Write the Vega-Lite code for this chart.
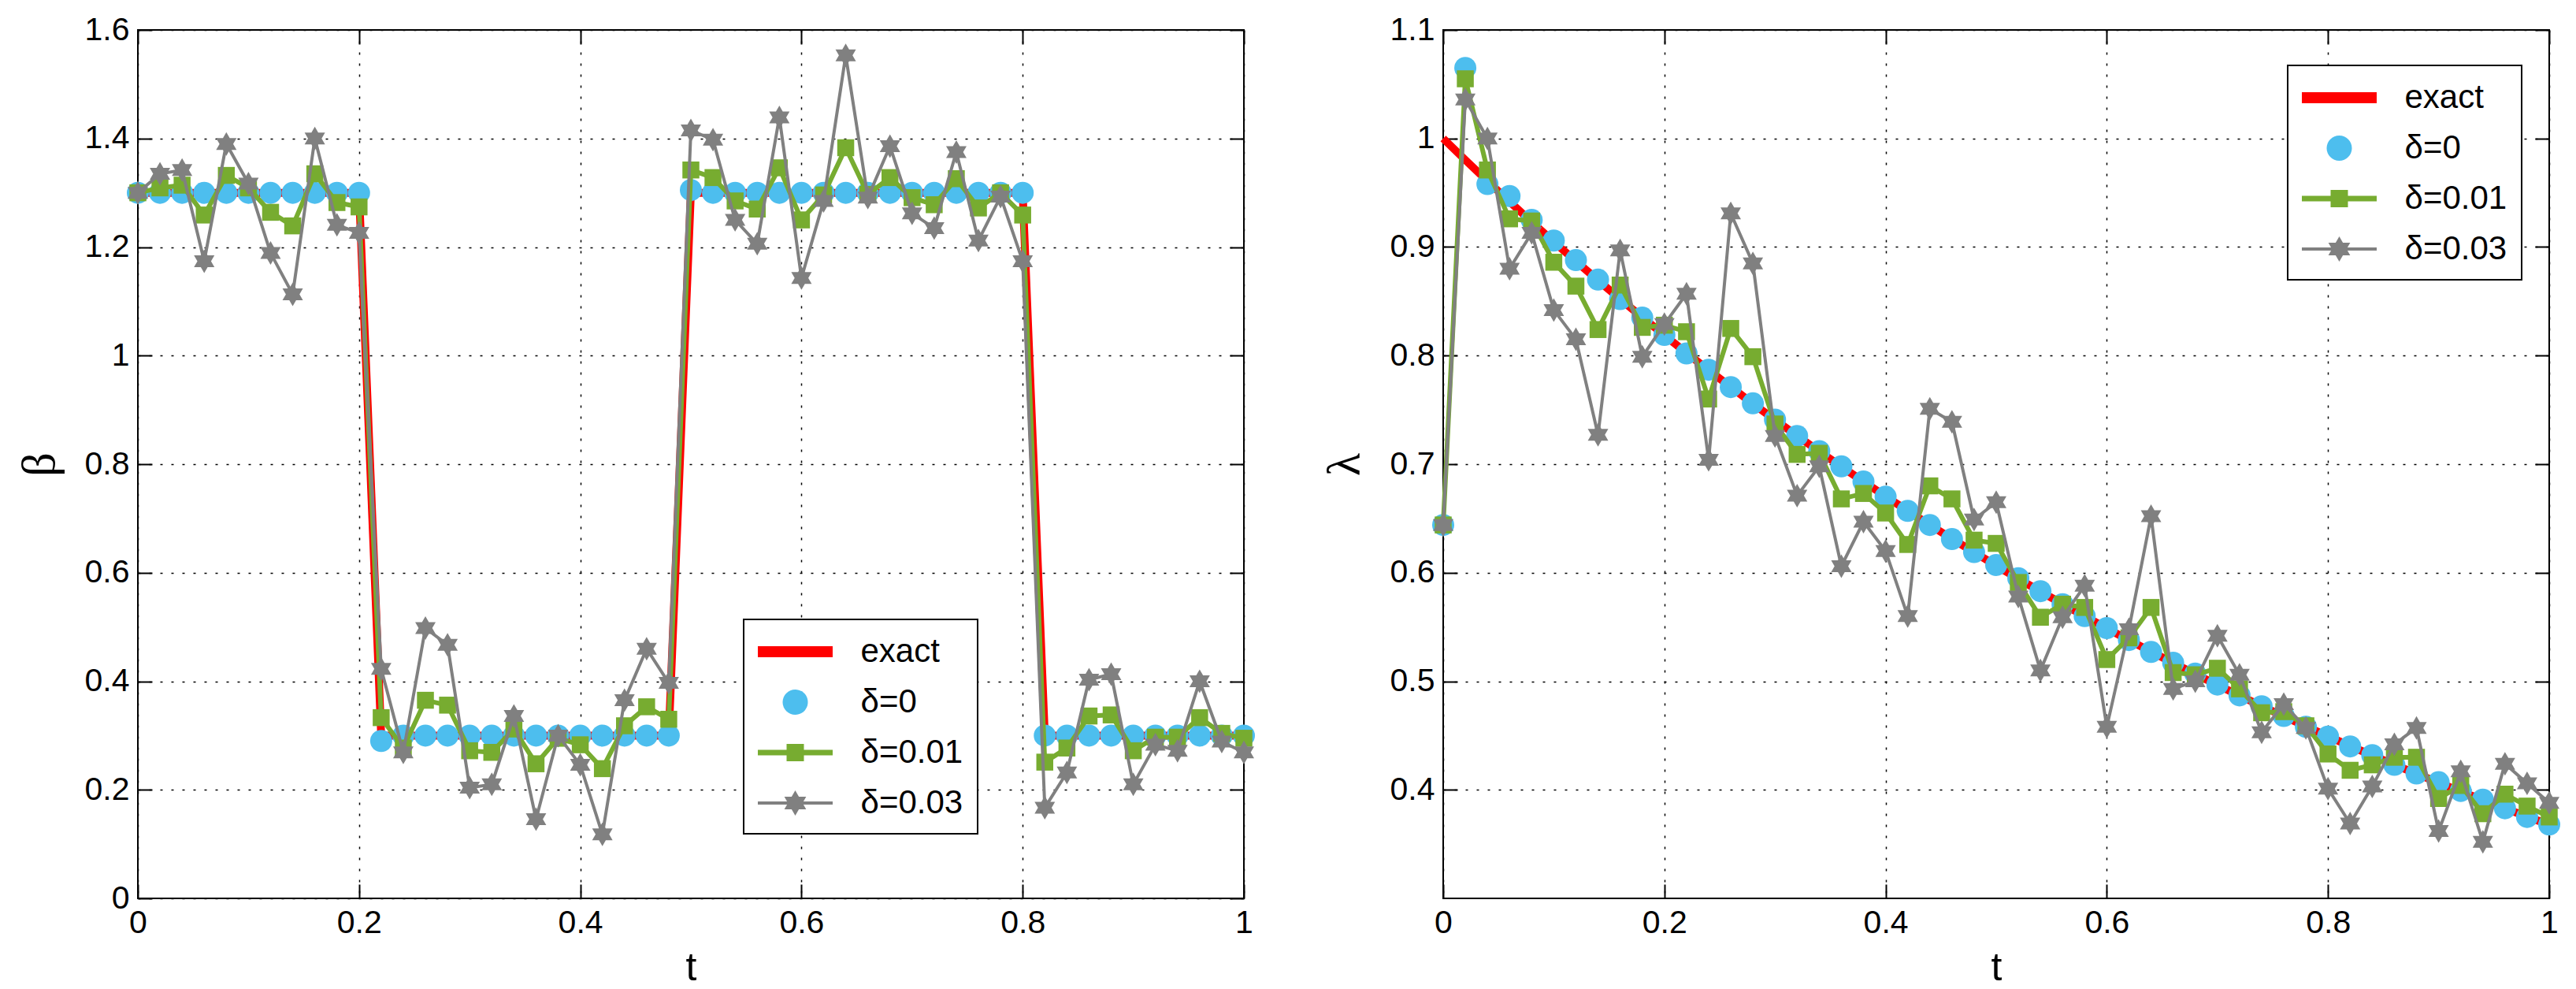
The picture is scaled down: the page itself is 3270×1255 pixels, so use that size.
{
  "$schema": "https://vega.github.io/schema/vega-lite/v6.json",
  "background": "white",
  "padding": {"left": 19, "top": 16, "right": 0, "bottom": 0},
  "spacing": 253,
  "bounds": "flush",
  "config": {
    "view": {"stroke": "black", "strokeWidth": 2},
    "axis": {
      "labelFont": "Liberation Sans",
      "labelFontSize": 41,
      "labelColor": "black",
      "labelFlush": false,
      "labelOverlap": false,
      "labelPadding": 29,
      "domain": false,
      "tickColor": "black",
      "tickSize": -18,
      "tickWidth": 2,
      "gridColor": "black",
      "gridDash": [3, 11],
      "gridWidth": 1.5,
      "gridOpacity": 1,
      "titleColor": "black",
      "titleFontWeight": "normal"
    },
    "legend": {
      "labelFont": "Liberation Sans",
      "labelFontSize": 42,
      "labelColor": "black",
      "labelLimit": 0
    }
  },
  "resolve": {"scale": {"color": "independent"}, "legend": {"color": "independent"}},
  "datasets": {
    "beta": [
      {"t": 0, "exact": 1.3, "d0": 1.3, "d1": 1.3, "d3": 1.3},
      {"t": 0.02, "exact": 1.3, "d0": 1.3, "d1": 1.309, "d3": 1.335},
      {"t": 0.04, "exact": 1.3, "d0": 1.3, "d1": 1.314, "d3": 1.342},
      {"t": 0.06, "exact": 1.3, "d0": 1.3, "d1": 1.259, "d3": 1.174},
      {"t": 0.08, "exact": 1.3, "d0": 1.3, "d1": 1.332, "d3": 1.39},
      {"t": 0.1, "exact": 1.3, "d0": 1.3, "d1": 1.309, "d3": 1.317},
      {"t": 0.12, "exact": 1.3, "d0": 1.3, "d1": 1.264, "d3": 1.189},
      {"t": 0.14, "exact": 1.3, "d0": 1.3, "d1": 1.239, "d3": 1.113},
      {"t": 0.16, "exact": 1.3, "d0": 1.3, "d1": 1.335, "d3": 1.4},
      {"t": 0.18, "exact": 1.3, "d0": 1.3, "d1": 1.282, "d3": 1.241},
      {"t": 0.2, "exact": 1.3, "d0": 1.3, "d1": 1.274, "d3": 1.226},
      {"t": 0.22, "exact": 0.3, "d0": 0.29, "d1": 0.333, "d3": 0.423},
      {"t": 0.24, "exact": 0.3, "d0": 0.3, "d1": 0.277, "d3": 0.269},
      {"t": 0.26, "exact": 0.3, "d0": 0.3, "d1": 0.365, "d3": 0.498},
      {"t": 0.28, "exact": 0.3, "d0": 0.3, "d1": 0.356, "d3": 0.467},
      {"t": 0.3, "exact": 0.3, "d0": 0.3, "d1": 0.272, "d3": 0.204},
      {"t": 0.32, "exact": 0.3, "d0": 0.3, "d1": 0.269, "d3": 0.21},
      {"t": 0.34, "exact": 0.3, "d0": 0.3, "d1": 0.312, "d3": 0.336},
      {"t": 0.36, "exact": 0.3, "d0": 0.3, "d1": 0.248, "d3": 0.146},
      {"t": 0.38, "exact": 0.3, "d0": 0.3, "d1": 0.295, "d3": 0.3},
      {"t": 0.4, "exact": 0.3, "d0": 0.3, "d1": 0.283, "d3": 0.246},
      {"t": 0.42, "exact": 0.3, "d0": 0.3, "d1": 0.239, "d3": 0.118},
      {"t": 0.44, "exact": 0.3, "d0": 0.3, "d1": 0.318, "d3": 0.365},
      {"t": 0.46, "exact": 0.3, "d0": 0.3, "d1": 0.353, "d3": 0.46},
      {"t": 0.48, "exact": 0.3, "d0": 0.3, "d1": 0.33, "d3": 0.397},
      {"t": 0.5, "exact": 1.3, "d0": 1.305, "d1": 1.342, "d3": 1.415},
      {"t": 0.52, "exact": 1.3, "d0": 1.3, "d1": 1.328, "d3": 1.398},
      {"t": 0.54, "exact": 1.3, "d0": 1.3, "d1": 1.285, "d3": 1.25},
      {"t": 0.56, "exact": 1.3, "d0": 1.3, "d1": 1.27, "d3": 1.206},
      {"t": 0.58, "exact": 1.3, "d0": 1.3, "d1": 1.346, "d3": 1.439},
      {"t": 0.6, "exact": 1.3, "d0": 1.3, "d1": 1.25, "d3": 1.143},
      {"t": 0.62, "exact": 1.3, "d0": 1.3, "d1": 1.296, "d3": 1.285},
      {"t": 0.64, "exact": 1.3, "d0": 1.3, "d1": 1.383, "d3": 1.553},
      {"t": 0.66, "exact": 1.3, "d0": 1.3, "d1": 1.297, "d3": 1.291},
      {"t": 0.68, "exact": 1.3, "d0": 1.3, "d1": 1.328, "d3": 1.386},
      {"t": 0.7, "exact": 1.3, "d0": 1.3, "d1": 1.291, "d3": 1.262},
      {"t": 0.72, "exact": 1.3, "d0": 1.3, "d1": 1.278, "d3": 1.235},
      {"t": 0.74, "exact": 1.3, "d0": 1.3, "d1": 1.326, "d3": 1.375},
      {"t": 0.76, "exact": 1.3, "d0": 1.3, "d1": 1.272, "d3": 1.212},
      {"t": 0.78, "exact": 1.3, "d0": 1.3, "d1": 1.3, "d3": 1.293},
      {"t": 0.8, "exact": 1.3, "d0": 1.3, "d1": 1.259, "d3": 1.174},
      {"t": 0.82, "exact": 0.3, "d0": 0.3, "d1": 0.251, "d3": 0.167},
      {"t": 0.84, "exact": 0.3, "d0": 0.3, "d1": 0.277, "d3": 0.232},
      {"t": 0.86, "exact": 0.3, "d0": 0.3, "d1": 0.336, "d3": 0.403},
      {"t": 0.88, "exact": 0.3, "d0": 0.3, "d1": 0.338, "d3": 0.413},
      {"t": 0.9, "exact": 0.3, "d0": 0.3, "d1": 0.272, "d3": 0.21},
      {"t": 0.92, "exact": 0.3, "d0": 0.3, "d1": 0.297, "d3": 0.283},
      {"t": 0.94, "exact": 0.3, "d0": 0.3, "d1": 0.297, "d3": 0.272},
      {"t": 0.96, "exact": 0.3, "d0": 0.3, "d1": 0.333, "d3": 0.4},
      {"t": 0.98, "exact": 0.3, "d0": 0.3, "d1": 0.304, "d3": 0.289},
      {"t": 1, "exact": 0.3, "d0": 0.3, "d1": 0.295, "d3": 0.269}
    ],
    "lambda": [
      {"t": 0, "exact": 1.0, "d0": 0.644, "d1": 0.644, "d3": 0.644},
      {"t": 0.02, "exact": 0.9802, "d0": 1.065, "d1": 1.055, "d3": 1.036},
      {"t": 0.04, "exact": 0.9608, "d0": 0.958, "d1": 0.971, "d3": 1.0},
      {"t": 0.06, "exact": 0.9418, "d0": 0.947, "d1": 0.926, "d3": 0.88},
      {"t": 0.08, "exact": 0.9231, "d0": 0.925, "d1": 0.924, "d3": 0.913},
      {"t": 0.1, "exact": 0.9048, "d0": 0.906, "d1": 0.886, "d3": 0.842},
      {"t": 0.12, "exact": 0.8869, "d0": 0.888, "d1": 0.864, "d3": 0.815},
      {"t": 0.14, "exact": 0.8694, "d0": 0.87, "d1": 0.824, "d3": 0.727},
      {"t": 0.16, "exact": 0.8521, "d0": 0.852, "d1": 0.865, "d3": 0.897},
      {"t": 0.18, "exact": 0.8353, "d0": 0.835, "d1": 0.826, "d3": 0.799},
      {"t": 0.2, "exact": 0.8187, "d0": 0.819, "d1": 0.828, "d3": 0.829},
      {"t": 0.22, "exact": 0.8025, "d0": 0.802, "d1": 0.822, "d3": 0.857},
      {"t": 0.24, "exact": 0.7866, "d0": 0.787, "d1": 0.76, "d3": 0.704},
      {"t": 0.26, "exact": 0.7711, "d0": 0.771, "d1": 0.825, "d3": 0.931},
      {"t": 0.28, "exact": 0.7558, "d0": 0.756, "d1": 0.799, "d3": 0.885},
      {"t": 0.3, "exact": 0.7408, "d0": 0.741, "d1": 0.737, "d3": 0.726},
      {"t": 0.32, "exact": 0.7261, "d0": 0.726, "d1": 0.709, "d3": 0.671},
      {"t": 0.34, "exact": 0.7118, "d0": 0.712, "d1": 0.71, "d3": 0.698},
      {"t": 0.36, "exact": 0.6977, "d0": 0.698, "d1": 0.668, "d3": 0.606},
      {"t": 0.38, "exact": 0.6839, "d0": 0.684, "d1": 0.673, "d3": 0.647},
      {"t": 0.4, "exact": 0.6703, "d0": 0.67, "d1": 0.655, "d3": 0.62},
      {"t": 0.42, "exact": 0.657, "d0": 0.657, "d1": 0.626, "d3": 0.56},
      {"t": 0.44, "exact": 0.644, "d0": 0.644, "d1": 0.68, "d3": 0.751},
      {"t": 0.46, "exact": 0.6313, "d0": 0.631, "d1": 0.668, "d3": 0.739},
      {"t": 0.48, "exact": 0.6188, "d0": 0.619, "d1": 0.63, "d3": 0.649},
      {"t": 0.5, "exact": 0.6065, "d0": 0.607, "d1": 0.627, "d3": 0.665},
      {"t": 0.52, "exact": 0.5945, "d0": 0.595, "d1": 0.591, "d3": 0.578},
      {"t": 0.54, "exact": 0.5827, "d0": 0.583, "d1": 0.559, "d3": 0.51},
      {"t": 0.56, "exact": 0.5712, "d0": 0.571, "d1": 0.571, "d3": 0.559},
      {"t": 0.58, "exact": 0.5599, "d0": 0.56, "d1": 0.568, "d3": 0.588},
      {"t": 0.6, "exact": 0.5488, "d0": 0.549, "d1": 0.52, "d3": 0.458},
      {"t": 0.62, "exact": 0.5379, "d0": 0.538, "d1": 0.54, "d3": 0.548},
      {"t": 0.64, "exact": 0.5273, "d0": 0.527, "d1": 0.568, "d3": 0.652},
      {"t": 0.66, "exact": 0.5169, "d0": 0.517, "d1": 0.508, "d3": 0.493},
      {"t": 0.68, "exact": 0.5066, "d0": 0.507, "d1": 0.506, "d3": 0.5},
      {"t": 0.7, "exact": 0.4966, "d0": 0.497, "d1": 0.512, "d3": 0.542},
      {"t": 0.72, "exact": 0.4868, "d0": 0.487, "d1": 0.493, "d3": 0.506},
      {"t": 0.74, "exact": 0.4771, "d0": 0.477, "d1": 0.471, "d3": 0.453},
      {"t": 0.76, "exact": 0.4677, "d0": 0.468, "d1": 0.472, "d3": 0.479},
      {"t": 0.78, "exact": 0.4584, "d0": 0.458, "d1": 0.459, "d3": 0.457},
      {"t": 0.8, "exact": 0.4493, "d0": 0.449, "d1": 0.433, "d3": 0.401},
      {"t": 0.82, "exact": 0.4404, "d0": 0.44, "d1": 0.418, "d3": 0.369},
      {"t": 0.84, "exact": 0.4317, "d0": 0.432, "d1": 0.423, "d3": 0.403},
      {"t": 0.86, "exact": 0.4232, "d0": 0.423, "d1": 0.43, "d3": 0.442},
      {"t": 0.88, "exact": 0.4148, "d0": 0.415, "d1": 0.43, "d3": 0.457},
      {"t": 0.9, "exact": 0.4066, "d0": 0.407, "d1": 0.392, "d3": 0.362},
      {"t": 0.92, "exact": 0.3985, "d0": 0.399, "d1": 0.404, "d3": 0.417},
      {"t": 0.94, "exact": 0.3906, "d0": 0.391, "d1": 0.378, "d3": 0.352},
      {"t": 0.96, "exact": 0.3829, "d0": 0.383, "d1": 0.396, "d3": 0.424},
      {"t": 0.98, "exact": 0.3753, "d0": 0.375, "d1": 0.385, "d3": 0.406},
      {"t": 1, "exact": 0.3679, "d0": 0.368, "d1": 0.375, "d3": 0.388}
    ]
  },
  "hconcat": [
    {
      "width": 1404,
      "height": 1102,
      "data": {"name": "beta"},
      "resolve": {"axis": {"x": "independent", "y": "independent"}},
      "layer": [
        {
          "mark": {"type": "line", "strokeWidth": 10},
          "encoding": {
            "x": {"field": "t", "type": "quantitative", "scale": {"domain": [0, 1], "nice": false},
              "axis": {"orient": "bottom", "values": [0, 0.2, 0.4, 0.6, 0.8, 1], "format": "~g", "grid": true,
                "title": "t", "titleFont": "Liberation Sans", "titleFontSize": 50, "titleY": 103, "titleBaseline": "alphabetic"}},
            "y": {"field": "exact", "type": "quantitative", "scale": {"domain": [0, 1.6], "nice": false},
              "axis": {"orient": "left", "values": [0, 0.2, 0.4, 0.6, 0.8, 1, 1.2, 1.4, 1.6], "format": "~g", "grid": true,
                "title": "β", "titleFont": "Liberation Serif", "titleFontSize": 60, "titleX": -107, "titleY": 551,
                "titleAngle": -90, "titleBaseline": "alphabetic", "titleAlign": "center"}},
            "color": {
              "datum": "exact", "type": "nominal",
              "scale": {"domain": ["exact", "δ=0", "δ=0.01", "δ=0.03"], "range": ["#ff0000", "#4dbeee", "#77ac30", "#808080"]},
              "legend": {
                "title": null, "orient": "none", "legendX": 769, "legendY": 748,
                "padding": 18, "strokeColor": "black", "fillColor": "white",
                "symbolSize": 2116, "symbolOffset": 24.5, "labelOffset": 60, "rowPadding": 20,
                "encode": {
                  "legend": {"update": {"strokeWidth": {"value": 2}}},
                  "symbols": {"update": {
                    "shape": {"signal": "['M-2.065,-0.304H2.065V0.304H-2.065Z','M0.696,0A0.696,0.696,0,1,1,-0.696,0A0.696,0.696,0,1,1,0.696,0Z','M-2.065,-0.152H2.065V0.152H-2.065ZM-0.478,-0.478H0.478V0.478H-0.478Z','M-2.065,-0.087H2.065V0.087H-2.065ZM0,-0.696L0.201,-0.348L0.603,-0.348L0.402,0L0.603,0.348L0.201,0.348L0,0.696L-0.201,0.348L-0.603,0.348L-0.402,0L-0.603,-0.348L-0.201,-0.348Z'][datum.index]"},
                    "fill": {"signal": "['#ff0000','#4dbeee','#77ac30','#808080'][datum.index]"},
                    "stroke": {"value": "transparent"},
                    "strokeWidth": {"value": 0},
                    "opacity": {"value": 1},
                    "fillOpacity": {"value": 1}
                  }}
                }
              }
            }
          }
        },
        {
          "mark": {"type": "point", "shape": "circle", "filled": true, "size": 784, "opacity": 1},
          "encoding": {
            "x": {"field": "t", "type": "quantitative",
              "axis": {"orient": "top", "values": [0, 0.2, 0.4, 0.6, 0.8, 1], "labels": false, "grid": false, "title": null}},
            "y": {"field": "d0", "type": "quantitative",
              "axis": {"orient": "right", "values": [0, 0.2, 0.4, 0.6, 0.8, 1, 1.2, 1.4, 1.6], "labels": false, "grid": false, "title": null}},
            "color": {"datum": "δ=0", "type": "nominal"}
          }
        },
        {
          "mark": {"type": "line", "strokeWidth": 6},
          "encoding": {
            "x": {"field": "t", "type": "quantitative", "axis": null},
            "y": {"field": "d1", "type": "quantitative", "axis": null},
            "color": {"datum": "δ=0.01", "type": "nominal"}
          }
        },
        {
          "mark": {"type": "point", "shape": "square", "filled": true, "size": 462, "opacity": 1},
          "encoding": {
            "x": {"field": "t", "type": "quantitative", "axis": null},
            "y": {"field": "d1", "type": "quantitative", "axis": null},
            "color": {"datum": "δ=0.01", "type": "nominal"}
          }
        },
        {
          "mark": {"type": "line", "strokeWidth": 4},
          "encoding": {
            "x": {"field": "t", "type": "quantitative", "axis": null},
            "y": {"field": "d3", "type": "quantitative", "axis": null},
            "color": {"datum": "δ=0.03", "type": "nominal"}
          }
        },
        {
          "mark": {"type": "point", "shape": "M0,-1L0.289,-0.5L0.866,-0.5L0.577,0L0.866,0.5L0.289,0.5L0,1L-0.289,0.5L-0.866,0.5L-0.577,0L-0.866,-0.5L-0.289,-0.5Z", "filled": true, "size": 900, "opacity": 1},
          "encoding": {
            "x": {"field": "t", "type": "quantitative", "axis": null},
            "y": {"field": "d3", "type": "quantitative", "axis": null},
            "color": {"datum": "δ=0.03", "type": "nominal"}
          }
        }
      ]
    },
    {
      "width": 1404,
      "height": 1102,
      "data": {"name": "lambda"},
      "resolve": {"axis": {"x": "independent", "y": "independent"}},
      "layer": [
        {
          "mark": {"type": "line", "strokeWidth": 10},
          "encoding": {
            "x": {"field": "t", "type": "quantitative", "scale": {"domain": [0, 1], "nice": false},
              "axis": {"orient": "bottom", "values": [0, 0.2, 0.4, 0.6, 0.8, 1], "format": "~g", "grid": true,
                "title": "t", "titleFont": "Liberation Sans", "titleFontSize": 50, "titleY": 103, "titleBaseline": "alphabetic"}},
            "y": {"field": "exact", "type": "quantitative", "scale": {"domain": [0.3, 1.1], "nice": false},
              "axis": {"orient": "left", "values": [0.4, 0.5, 0.6, 0.7, 0.8, 0.9, 1, 1.1], "format": "~g", "grid": true,
                "title": "λ", "titleFont": "Liberation Serif", "titleFontSize": 60, "titleX": -107, "titleY": 551,
                "titleAngle": -90, "titleBaseline": "alphabetic", "titleAlign": "center"}},
            "color": {
              "datum": "exact", "type": "nominal",
              "scale": {"domain": ["exact", "δ=0", "δ=0.01", "δ=0.03"], "range": ["#ff0000", "#4dbeee", "#77ac30", "#808080"]},
              "legend": {
                "title": null, "orient": "none", "legendX": 1072, "legendY": 45,
                "padding": 18, "strokeColor": "black", "fillColor": "white",
                "symbolSize": 2116, "symbolOffset": 24.5, "labelOffset": 60, "rowPadding": 20,
                "encode": {
                  "legend": {"update": {"strokeWidth": {"value": 2}}},
                  "symbols": {"update": {
                    "shape": {"signal": "['M-2.065,-0.304H2.065V0.304H-2.065Z','M0.696,0A0.696,0.696,0,1,1,-0.696,0A0.696,0.696,0,1,1,0.696,0Z','M-2.065,-0.152H2.065V0.152H-2.065ZM-0.478,-0.478H0.478V0.478H-0.478Z','M-2.065,-0.087H2.065V0.087H-2.065ZM0,-0.696L0.201,-0.348L0.603,-0.348L0.402,0L0.603,0.348L0.201,0.348L0,0.696L-0.201,0.348L-0.603,0.348L-0.402,0L-0.603,-0.348L-0.201,-0.348Z'][datum.index]"},
                    "fill": {"signal": "['#ff0000','#4dbeee','#77ac30','#808080'][datum.index]"},
                    "stroke": {"value": "transparent"},
                    "strokeWidth": {"value": 0},
                    "opacity": {"value": 1},
                    "fillOpacity": {"value": 1}
                  }}
                }
              }
            }
          }
        },
        {
          "mark": {"type": "point", "shape": "circle", "filled": true, "size": 784, "opacity": 1},
          "encoding": {
            "x": {"field": "t", "type": "quantitative",
              "axis": {"orient": "top", "values": [0, 0.2, 0.4, 0.6, 0.8, 1], "labels": false, "grid": false, "title": null}},
            "y": {"field": "d0", "type": "quantitative",
              "axis": {"orient": "right", "values": [0.4, 0.5, 0.6, 0.7, 0.8, 0.9, 1, 1.1], "labels": false, "grid": false, "title": null}},
            "color": {"datum": "δ=0", "type": "nominal"}
          }
        },
        {
          "mark": {"type": "line", "strokeWidth": 6},
          "encoding": {
            "x": {"field": "t", "type": "quantitative", "axis": null},
            "y": {"field": "d1", "type": "quantitative", "axis": null},
            "color": {"datum": "δ=0.01", "type": "nominal"}
          }
        },
        {
          "mark": {"type": "point", "shape": "square", "filled": true, "size": 462, "opacity": 1},
          "encoding": {
            "x": {"field": "t", "type": "quantitative", "axis": null},
            "y": {"field": "d1", "type": "quantitative", "axis": null},
            "color": {"datum": "δ=0.01", "type": "nominal"}
          }
        },
        {
          "mark": {"type": "line", "strokeWidth": 4},
          "encoding": {
            "x": {"field": "t", "type": "quantitative", "axis": null},
            "y": {"field": "d3", "type": "quantitative", "axis": null},
            "color": {"datum": "δ=0.03", "type": "nominal"}
          }
        },
        {
          "mark": {"type": "point", "shape": "M0,-1L0.289,-0.5L0.866,-0.5L0.577,0L0.866,0.5L0.289,0.5L0,1L-0.289,0.5L-0.866,0.5L-0.577,0L-0.866,-0.5L-0.289,-0.5Z", "filled": true, "size": 900, "opacity": 1},
          "encoding": {
            "x": {"field": "t", "type": "quantitative", "axis": null},
            "y": {"field": "d3", "type": "quantitative", "axis": null},
            "color": {"datum": "δ=0.03", "type": "nominal"}
          }
        }
      ]
    }
  ]
}
